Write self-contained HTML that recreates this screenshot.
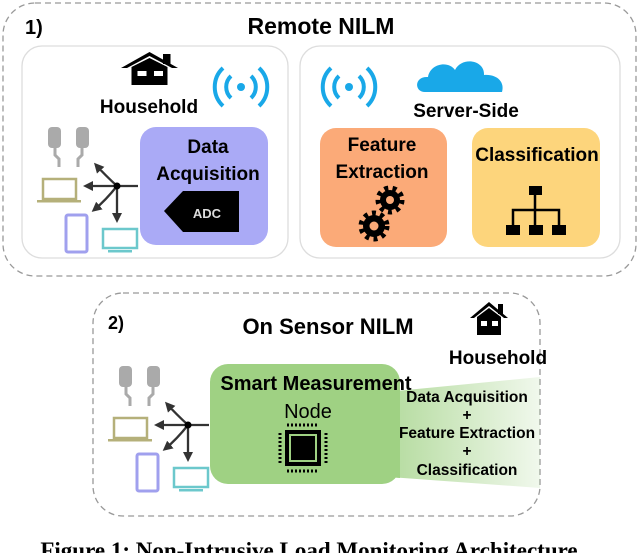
<!DOCTYPE html>
<html><head><meta charset="utf-8"><style>
html,body{margin:0;padding:0;background:#fff;}
svg{display:block;}
text{font-family:"Liberation Sans",sans-serif;font-weight:bold;fill:#000;}
</style></head><body>
<svg width="640" height="553" viewBox="0 0 640 553" xmlns="http://www.w3.org/2000/svg">
<defs>
<marker id="ah" markerWidth="10" markerHeight="10" refX="7" refY="5" orient="auto" markerUnits="userSpaceOnUse">
<path d="M0,0 L10,5 L0,10 Z" fill="#333"/></marker>
<linearGradient id="gr" x1="0" x2="1" y1="0" y2="0">
<stop offset="0" stop-color="#9fd183" stop-opacity="1"/>
<stop offset="1" stop-color="#9fd183" stop-opacity="0.15"/></linearGradient>
<g id="dev">
 <g fill="#aaa" stroke="#aaa">
  <rect x="48" y="127" width="13" height="21" rx="4" stroke="none"/>
  <rect x="76" y="127" width="13" height="21" rx="4" stroke="none"/>
  <path d="M55,147 v8 l4,4 v8 M82,147 v8 l-4,4 v8" fill="none" stroke-width="3"/>
 </g>
 <rect x="43" y="179" width="33" height="20" fill="none" stroke="#b5b07a" stroke-width="2.5"/>
 <rect x="37" y="200" width="44" height="2.5" fill="#b5b07a"/>
 <rect x="66" y="215" width="21" height="37" rx="2" fill="none" stroke="#a0a0ee" stroke-width="3"/>
 <rect x="103" y="229" width="34" height="19" fill="none" stroke="#6cc8cc" stroke-width="2.5"/>
 <rect x="108" y="250" width="24" height="2.5" fill="#6cc8cc"/>
 <g stroke="#333" stroke-width="2.3" fill="none">
  <line x1="138" y1="186" x2="117" y2="186"/>
  <line x1="117" y1="186" x2="86" y2="186" marker-end="url(#ah)"/>
  <line x1="117" y1="186" x2="117" y2="220" marker-end="url(#ah)"/>
  <path d="M117,186 Q105,175 96,165" marker-end="url(#ah)"/>
  <path d="M117,186 Q106,200 94,210" marker-end="url(#ah)"/>
 </g>
 <circle cx="117" cy="186" r="3.5" fill="#000"/>
</g>
<g id="house">
 <path d="M0,16 L19,0 L38,16 L34,16 L19,4 L4,16Z" fill="#000"/>
 <rect x="28" y="2" width="5" height="10" fill="#000"/>
 <path d="M7,15 L19,6 L31,15 V33 H7Z" fill="#000"/>
 <rect x="11" y="19" width="6" height="5" fill="#fff"/>
 <rect x="22" y="19" width="6" height="5" fill="#fff"/>
</g>
<g id="wifi" fill="none" stroke="#19a8e8" stroke-width="4">
 <circle cx="0" cy="0" r="4" fill="#19a8e8" stroke="none"/>
 <path d="M-10,-11 A15,15 0 0 0 -10,11 M10,-11 A15,15 0 0 1 10,11"/>
 <path d="M-18,-19 A26,26 0 0 0 -18,19 M18,-19 A26,26 0 0 1 18,19"/>
</g>
</defs>

<rect x="3" y="3" width="633" height="273" rx="32" fill="none" stroke="#999" stroke-width="1.3" stroke-dasharray="6,4"/>
<text x="25" y="34" font-size="20">1)</text>
<text x="321" y="34" font-size="23" text-anchor="middle">Remote NILM</text>
<rect x="22" y="46" width="266" height="212" rx="20" fill="#fff" stroke="#ddd" stroke-width="1.3"/>
<rect x="300" y="46" width="320" height="212" rx="20" fill="#fff" stroke="#ddd" stroke-width="1.3"/>

<use href="#house" transform="translate(121,52) scale(1.5,1.0)"/>
<text x="149" y="113" font-size="19" text-anchor="middle">Household</text>
<use href="#wifi" transform="translate(241,87)"/>
<rect x="140" y="127" width="128" height="118" rx="16" fill="#aaaaf6"/>
<text x="208" y="153" font-size="19" text-anchor="middle">Data</text>
<text x="208" y="180" font-size="19" text-anchor="middle">Acquisition</text>
<path d="M183,191 H239 V232 H183 L164,211Z" fill="#000"/>
<text x="207" y="218" font-size="13" text-anchor="middle" style="fill:#ddd">ADC</text>
<use href="#dev"/>

<use href="#wifi" transform="translate(349,87)"/>
<path d="M425,92 C414,92 414,76 428,77 C430,64 448,60 455,70 C462,56 485,60 484,75 C497,74 505,82 502,92 Z" fill="#19a8e8"/>
<text x="466" y="117" font-size="19" text-anchor="middle">Server-Side</text>
<rect x="320" y="128" width="127" height="119" rx="16" fill="#fbaa78"/>
<text x="382" y="151" font-size="19" text-anchor="middle">Feature</text>
<text x="382" y="178" font-size="19" text-anchor="middle">Extraction</text>
<g fill="#000">
 <circle cx="390" cy="200" r="10"/><circle cx="374" cy="226" r="11"/>
 <g stroke="#000" stroke-width="5" stroke-dasharray="4,4.4">
  <circle cx="390" cy="200" r="12" fill="none"/><circle cx="374" cy="226" r="13" fill="none"/>
 </g>
 <circle cx="390" cy="200" r="4" fill="#fbaa78"/><circle cx="374" cy="226" r="4.5" fill="#fbaa78"/>
</g>
<rect x="472" y="128" width="128" height="119" rx="16" fill="#fdd57c"/>
<text x="537" y="161" font-size="19" text-anchor="middle">Classification</text>
<g fill="#000">
 <rect x="529" y="186" width="13" height="9"/>
 <rect x="506" y="225" width="14" height="10"/><rect x="529" y="225" width="14" height="10"/><rect x="552" y="225" width="14" height="10"/>
 <path d="M535,195 V225 M513,225 V210 H559 V225" stroke="#000" stroke-width="2.5" fill="none"/>
</g>

<rect x="93" y="293" width="447" height="223" rx="30" fill="none" stroke="#999" stroke-width="1.3" stroke-dasharray="6,4"/>
<text x="108" y="329" font-size="18">2)</text>
<text x="328" y="334" font-size="22" text-anchor="middle">On Sensor NILM</text>
<use href="#house" transform="translate(470,302) scale(1.0,1.0)"/>
<text x="498" y="364" font-size="19" text-anchor="middle">Household</text>
<path d="M335,397 L540,377 L540,488 L335,473Z" fill="url(#gr)"/>
<rect x="210" y="364" width="190" height="120" rx="18" fill="#9fd183"/>
<path d="M335,397 L400,391 L400,478 L335,473Z" fill="#9fd183"/>
<text x="316" y="390" font-size="20" text-anchor="middle">Smart Measurement</text>
<text x="308" y="418" font-size="20" text-anchor="middle" style="font-weight:normal">Node</text>
<g>
 <rect x="285" y="430" width="36" height="36" fill="#000"/>
 <rect x="290" y="435" width="26" height="26" fill="none" stroke="#9fd183" stroke-width="2"/>
 <rect x="294" y="439" width="18" height="18" fill="#000"/>
 <g stroke="#000" stroke-width="3" stroke-dasharray="2,2">
  <line x1="287" y1="425" x2="319" y2="425"/><line x1="287" y1="471" x2="319" y2="471"/>
  <line x1="280" y1="433" x2="280" y2="464"/><line x1="326" y1="433" x2="326" y2="464"/>
 </g>
</g>
<g font-size="15.5">
<text x="467" y="402" text-anchor="middle">Data Acquisition</text>
<text x="467" y="420" text-anchor="middle">+</text>
<text x="467" y="438" text-anchor="middle">Feature Extraction</text>
<text x="467" y="456" text-anchor="middle">+</text>
<text x="467" y="475" text-anchor="middle">Classification</text>
</g>
<use href="#dev" transform="translate(71,239)"/>

<text x="309" y="558" font-size="23" text-anchor="middle" style="font-family:'Liberation Serif',serif">Figure 1: Non-Intrusive Load Monitoring Architecture</text>
</svg>
</body></html>
